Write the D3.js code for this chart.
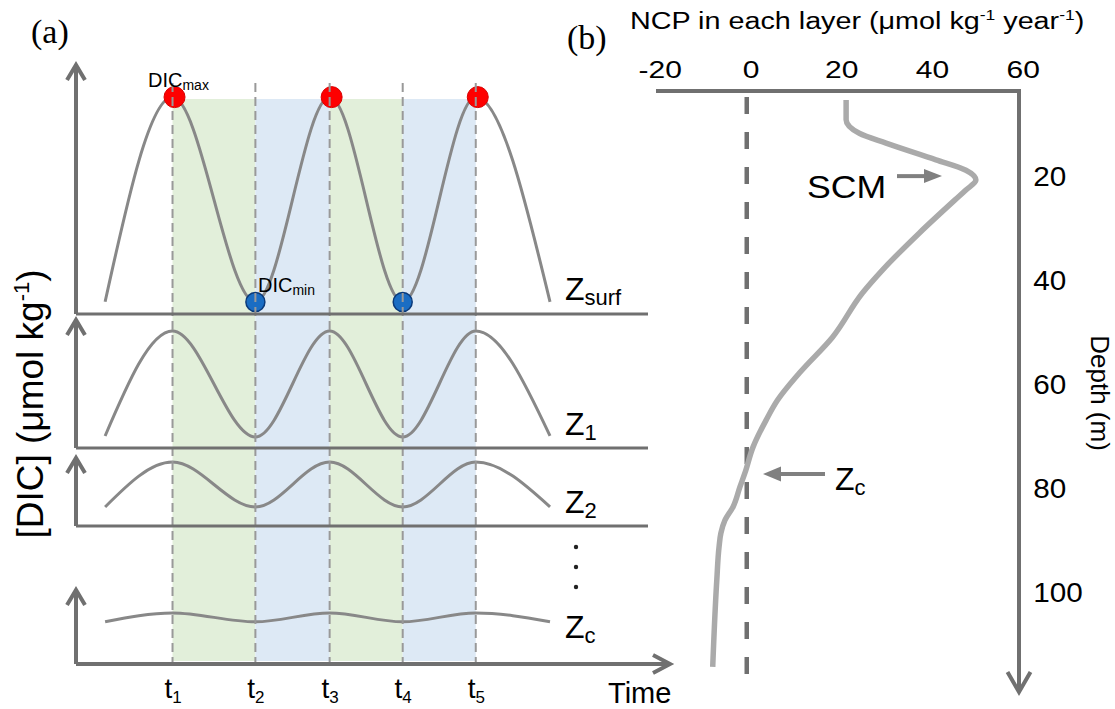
<!DOCTYPE html>
<html>
<head>
  <meta charset="utf-8">
  <title>DIC cycles and NCP profile</title>
  <script src="https://cdnjs.cloudflare.com/ajax/libs/d3/7.8.5/d3.min.js"></script>
  <style>
    body { margin: 0; background: #fff; }
    text { font-family: "Liberation Sans", Arial, Helvetica, sans-serif; fill: #000; }
    .serif { font-family: "Liberation Serif", "Times New Roman", serif; }
  </style>
</head>
<body>
<svg width="1115" height="709"></svg>
<script>

// ---------- panel (a) data : schematic DIC cycles per layer ----------
let tLabels = ["1", "2", "3", "4", "5"];
let tTimes = [16.25, 30.2, 42.7, 55.0, 67.3];          // times of DIC max / min
let curveTimes = [4.9, 16.25, 30.2, 42.7, 55.0, 67.3, 79.8];
let layerNames = ["surf", "1", "2", "c"];
// relative DIC (0-100 of each layer's box)
let surfDIC = [4.9, 87.1, 4.8, 87.1, 4.8, 87.1, 4.9];
let z1DIC = [9.4, 91.4, 8.6, 91.4, 8.6, 91.4, 9.4];
let z2DIC = [28, 94, 28, 94, 28, 94, 28];
let zcDIC = [57, 69, 57, 69, 57, 69, 57];
let maxIndex = [1, 3, 5];
let minIndex = [2, 4];

// ---------- panel (b) data : NCP profile ----------
let ncpTicks = [-20, 0, 20, 40, 60];
let depthTicks = [20, 40, 60, 80, 100];
let ncpValues = [21.9, 21.9, 24.8, 30.7, 41.7, 48.3, 50.5, 48.3, 45.9, 38.0, 29.9, 25.5,
                 18.9, 11.6, 6.8, 4.3, 1.4, -0.4, -1.5, -3.0, -4.8, -5.7, -6.1, -6.6, -7.5];
let depthValues = [5.2, 9.0, 11.6, 13.5, 16.7, 18.7, 20.6, 22.5, 24.4, 30.8, 37.9, 42.3,
                   50.8, 57.7, 62.9, 66.7, 71.9, 76.9, 79.6, 83.4, 86.0, 88.5, 91.1, 97.5, 114.2];
let scmDepth = 20.6;
let zcDepth = 77.5;

let svg = d3.select("svg");
let axisColor = "#707070";

// ================= panel (a) =================
let layerData = [surfDIC, z1DIC, z2DIC, zcDIC];
let layerBox = [[65, 314], [320, 448], [458, 526], [590, 664]];   // arrow tip, baseline
let labelBase = [300, 435, 513, 638];

let x = d3.scaleLinear().domain([0, 100]).range([76, 670]);
let yScales = layerBox.map(b => d3.scaleLinear().domain([0, 100]).range([b[1], b[0]]));

let a = svg.append("g");

// shaded periods between t's
a.selectAll(".band")
  .data(d3.pairs(tTimes))
  .enter().append("rect")
  .attr("x", d => x(d[0]))
  .attr("width", d => x(d[1]) - x(d[0]))
  .attr("y", 99)
  .attr("height", 562)
  .attr("fill", (d, i) => i % 2 == 0 ? "#e2efda" : "#dde9f5");

// curves
let line = d3.line().curve(d3.curveMonotoneX);
layerData.forEach(function(vals, k) {
  let y = yScales[k];
  a.append("path")
    .attr("d", line(vals.map((v, i) => [x(curveTimes[i]), y(v)])))
    .attr("fill", "none")
    .attr("stroke", "#888")
    .attr("stroke-width", 3);
});

// DIC max / min markers
a.selectAll(".mx")
  .data(maxIndex)
  .enter().append("circle")
  .attr("cx", i => x(curveTimes[i]) + 2)
  .attr("cy", i => yScales[0](surfDIC[i]))
  .attr("r", 10.5)
  .attr("fill", "#fe0000")
  .attr("stroke", "#d80000");
a.selectAll(".mn")
  .data(minIndex)
  .enter().append("circle")
  .attr("cx", i => x(curveTimes[i]))
  .attr("cy", i => yScales[0](surfDIC[i]))
  .attr("r", 9.5)
  .attr("fill", "#1a6dc3")
  .attr("stroke", "#0a3a7a")
  .attr("stroke-width", 1.5);

// dashed time markers
a.selectAll(".tl")
  .data(tTimes)
  .enter().append("line")
  .attr("x1", d => x(d)).attr("x2", d => x(d))
  .attr("y1", 83).attr("y2", 664)
  .attr("stroke", "#999")
  .attr("stroke-width", 2)
  .attr("stroke-dasharray", "9,5");

// layer axes: vertical arrows + baselines
layerBox.forEach(function(b, k) {
  let x0 = x(0);
  a.append("path")
    .attr("d", `M${x0},${b[1]}V${b[0]}M${x0 - 9},${b[0] + 15}L${x0},${b[0]}L${x0 + 9},${b[0] + 15}`)
    .attr("fill", "none").attr("stroke", axisColor).attr("stroke-width", 4)
    .attr("stroke-linejoin", "miter");
  if (k < 3) {
    a.append("line")
      .attr("x1", x0).attr("x2", 648)
      .attr("y1", b[1]).attr("y2", b[1])
      .attr("stroke", axisColor).attr("stroke-width", 3);
  }
});
// time axis with arrow
let xEnd = x(100);
a.append("path")
  .attr("d", `M${x(0)},664H${xEnd}M${xEnd - 17},655L${xEnd},664L${xEnd - 17},673`)
  .attr("fill", "none").attr("stroke", axisColor).attr("stroke-width", 4);

let tAxis = a.append("g")
  .attr("transform", "translate(0,664)")
  .call(d3.axisBottom(x).tickValues(tTimes).tickSize(0).tickPadding(14));
tAxis.select(".domain").remove();
tAxis.selectAll("text")
  .attr("font-size", 28)
  .attr("font-family", "Liberation Sans, Arial, sans-serif")
  .text(null)
  .each(function(d, i) {
    let t = d3.select(this);
    t.append("tspan").text("t");
    t.append("tspan").attr("font-size", 17).attr("dy", 5).text(tLabels[i]);
  });

// layer labels
layerNames.forEach(function(n, k) {
  let t = a.append("text").attr("x", 565).attr("y", labelBase[k]).attr("font-size", 32);
  t.append("tspan").text("Z");
  t.append("tspan").attr("font-size", 22).attr("dy", 5).text(n);
});
a.selectAll(".dot")
  .data([547, 567, 587])
  .enter().append("circle")
  .attr("cx", 576).attr("cy", d => d).attr("r", 2.2).attr("fill", "#222");

// DIC max / min labels
let tmax = a.append("text").attr("x", 148).attr("y", 87).attr("font-size", 20);
tmax.append("tspan").text("DIC");
tmax.append("tspan").attr("font-size", 14).attr("dy", 3).text("max");
let tmin = a.append("text").attr("x", 258).attr("y", 292).attr("font-size", 20);
tmin.append("tspan").text("DIC");
tmin.append("tspan").attr("font-size", 14).attr("dy", 3).text("min");

a.append("text").attr("x", 608).attr("y", 703).attr("font-size", 29).text("Time");

let ylab = a.append("text")
  .attr("transform", "translate(43,404) rotate(-90)")
  .attr("text-anchor", "middle")
  .attr("font-size", 37);
ylab.append("tspan").text("[DIC] (μmol kg");
ylab.append("tspan").attr("font-size", 22).attr("dy", -14).text("-1");
ylab.append("tspan").attr("dy", 14).text(")");

a.append("text").attr("class", "serif").attr("x", 31).attr("y", 43).attr("font-size", 34).text("(a)");

// ================= panel (b) =================
let b = svg.append("g");
let xN = d3.scaleLinear().domain([-20, 60]).range([656, 1019]);
let yD = d3.scaleLinear().domain([0, 100]).range([73, 593]);

// zero line
b.append("line")
  .attr("x1", xN(0)).attr("x2", xN(0))
  .attr("y1", 97).attr("y2", 682)
  .attr("stroke", axisColor).attr("stroke-width", 4.5)
  .attr("stroke-dasharray", "17,18");

// NCP profile
b.append("path")
  .attr("d", d3.line().curve(d3.curveMonotoneY)(ncpValues.map((v, i) => [xN(v), yD(depthValues[i])])))
  .attr("fill", "none")
  .attr("stroke", "#aaa")
  .attr("stroke-width", 5.5)
  .attr("stroke-linecap", "butt");

// axes frame: top NCP axis + depth arrow
let xr = xN(60);
b.append("path")
  .attr("d", `M${xN(-20)},91H${xr}V692M${xr - 11.5},672L${xr},692L${xr + 11.5},672`)
  .attr("fill", "none").attr("stroke", axisColor).attr("stroke-width", 4);

let topAxis = b.append("g")
  .attr("transform", "translate(0,91)")
  .call(d3.axisTop(xN).tickValues(ncpTicks).tickFormat(d => String(d)).tickSize(0).tickPadding(13));
topAxis.select(".domain").remove();
topAxis.selectAll("text")
  .attr("font-size", 24)
  .attr("font-family", "Liberation Sans, Arial, sans-serif")
  .attr("x", 3)
  .attr("transform", "scale(1.25,1)");

let depthAxis = b.append("g")
  .attr("transform", `translate(${xr},0)`)
  .call(d3.axisRight(yD).tickValues(depthTicks).tickSize(0).tickPadding(13));
depthAxis.select(".domain").remove();
depthAxis.selectAll("text")
  .attr("font-size", 27)
  .attr("font-family", "Liberation Sans, Arial, sans-serif")
  .attr("transform", "scale(1.1,1)");

b.append("text")
  .attr("transform", "translate(1091,393) rotate(90)")
  .attr("text-anchor", "middle")
  .attr("font-size", 26)
  .text("Depth (m)");

let title = b.append("text")
  .attr("transform", "translate(630,29) scale(1.25,1)")
  .attr("font-size", 23);
title.append("tspan").text("NCP in each layer (μmol kg");
title.append("tspan").attr("font-size", 14).attr("dy", -9).text("-1");
title.append("tspan").attr("dy", 9).text(" year");
title.append("tspan").attr("font-size", 14).attr("dy", -9).text("-1");
title.append("tspan").attr("dy", 9).text(")");

b.append("text").attr("class", "serif").attr("x", 567).attr("y", 49).attr("font-size", 34).text("(b)");

// SCM annotation
let ys = yD(scmDepth) - 4;
b.append("path")
  .attr("d", `M897,${ys}H926`)
  .attr("stroke", "#808080").attr("stroke-width", 4);
b.append("path")
  .attr("d", `M924,${ys - 7}L942,${ys}L924,${ys + 7}Z`)
  .attr("fill", "#808080");
b.append("text")
  .attr("transform", "translate(807,198) scale(1.15,1)")
  .attr("font-size", 31)
  .text("SCM");

// Zc annotation
let yc = yD(zcDepth) - 2;
b.append("path")
  .attr("d", `M825,${yc}H778`)
  .attr("stroke", "#808080").attr("stroke-width", 4);
b.append("path")
  .attr("d", `M781,${yc - 7.5}L763,${yc}L781,${yc + 7.5}Z`)
  .attr("fill", "#808080");
let zc = b.append("text").attr("x", 835).attr("y", 490).attr("font-size", 32);
zc.append("tspan").text("Z");
zc.append("tspan").attr("font-size", 22).attr("dy", 5).text("c");

</script>
</body>
</html>
